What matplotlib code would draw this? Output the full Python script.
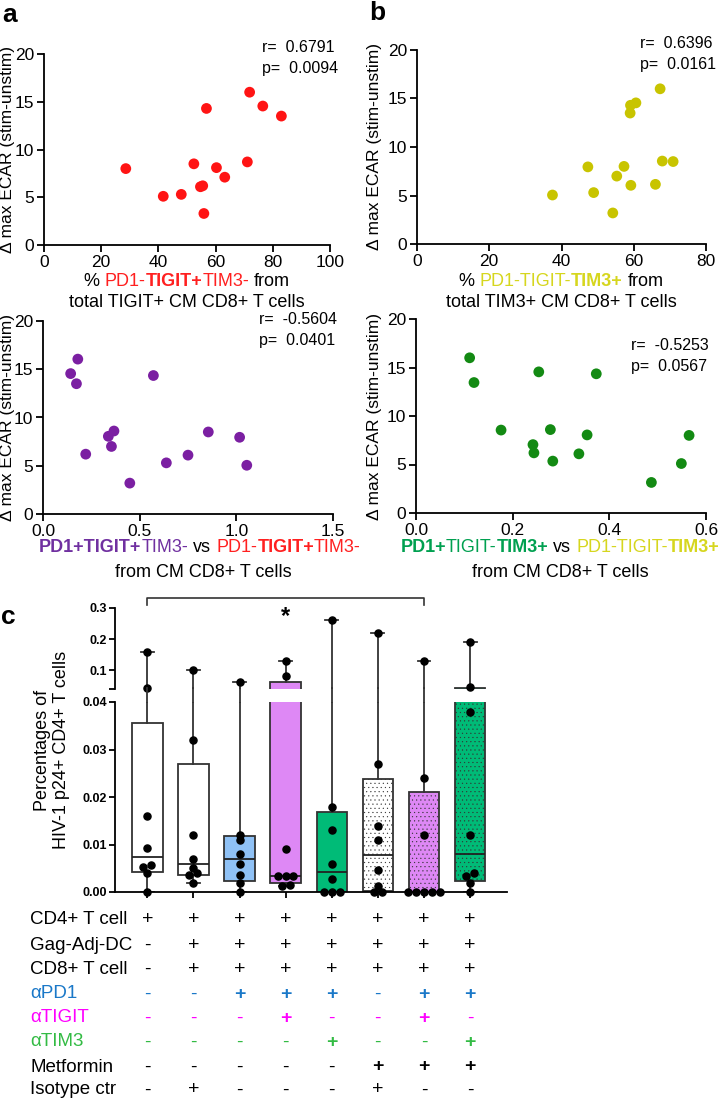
import numpy as np
import matplotlib
matplotlib.use('Agg')
import matplotlib.pyplot as plt
from matplotlib import transforms

plt.rcParams['font.family'] = ['Liberation Sans', 'DejaVu Sans']
plt.rcParams['hatch.linewidth'] = 0.3
NARROW = ['Liberation Sans Narrow', 'Liberation Sans', 'DejaVu Sans']

# ---------------- data ----------------
# panel a (top): % PD1-TIGIT+TIM3- vs delta max ECAR
tigit_pct = [28.6, 41.7, 48.0, 52.4, 54.7, 55.5, 55.9, 56.8, 60.3, 63.2, 71.1, 71.9, 76.5, 83.0]
ecar_a = [8.0, 5.1, 5.3, 8.5, 6.1, 6.2, 3.3, 14.3, 8.1, 7.1, 8.7, 16.0, 14.55, 13.5]

# panel b (top): % PD1-TIGIT-TIM3+
tim3_pct = [37.5, 47.3, 48.9, 54.2, 55.3, 57.3, 59.0, 59.2, 59.1, 60.6, 66.0, 67.3, 67.9, 70.9]
ecar_b = [5.05, 7.95, 5.3, 3.2, 7.0, 8.0, 13.5, 6.05, 14.3, 14.55, 6.15, 16.0, 8.55, 8.5]

# panel a (bottom): PD1+TIGIT+TIM3- / PD1-TIGIT+TIM3-
tigit_ratio = [0.143, 0.180, 0.173, 0.221, 0.338, 0.354, 0.367, 0.449, 0.571, 0.638, 0.750, 0.855, 1.017, 1.054]
ecar_c = [14.55, 16.05, 13.5, 6.2, 8.05, 7.0, 8.6, 3.2, 14.35, 5.3, 6.1, 8.5, 7.95, 5.05]

# panel b (bottom): PD1+TIGIT-TIM3+ / PD1-TIGIT-TIM3+
tim3_ratio = [0.111, 0.120, 0.176, 0.242, 0.244, 0.254, 0.278, 0.283, 0.337, 0.354, 0.373, 0.487, 0.549, 0.565]
ecar_d = [16.0, 13.45, 8.55, 7.05, 6.2, 14.55, 8.6, 5.35, 6.1, 8.05, 14.35, 3.15, 5.1, 8.0]

stats_txt = [('0.6791', '0.0094'), ('0.6396', '0.0161'), ('-0.5604', '0.0401'), ('-0.5253', '0.0567')]

# panel c: % HIV-1 p24+ CD4+ T cells per condition
p24 = [
    [0.16, 0.042, 0.016, 0.0092, 0.0056, 0.0052, 0.004, 0.0],
    [0.10, 0.032, 0.012, 0.007, 0.005, 0.004, 0.0035, 0.0019],
    [0.062, 0.012, 0.011, 0.008, 0.006, 0.0035, 0.002, 0.0],
    [0.13, 0.082, 0.009, 0.0033, 0.0033, 0.0033, 0.0015, 0.0012],
    [0.26, 0.018, 0.013, 0.0058, 0.0028, 0.0, 0.0, 0.0],
    [0.22, 0.027, 0.014, 0.011, 0.0047, 0.0012, 0.0, 0.0],
    [0.13, 0.024, 0.012, 0.0, 0.0, 0.0, 0.0, 0.0],
    [0.19, 0.045, 0.038, 0.012, 0.0041, 0.0034, 0.0019, 0.0],
]
box_colors = ['white', 'white', '#8fc1f5', '#de88f5', '#00bb77', 'white', '#de88f5', '#00bb77']
box_hatch = [None, None, None, None, None, '....', '....', '....']

row_labels = ['CD4+ T cell', 'Gag-Adj-DC', 'CD8+ T cell', 'αPD1', 'αTIGIT', 'αTIM3', 'Metformin', 'Isotype ctr']
row_colors = ['black', 'black', 'black', '#1a78c8', '#ff00ff', '#33bb44', 'black', 'black']
table = [
    '++++++++',
    '-+++++++',
    '-+++++++',
    '--+++-++',
    '---+--+-',
    '----+--+',
    '-----+++',
    '-+---+--',
]
bold_plus = [False, False, False, True, True, True, True, False]

# ---------------- figure ----------------
W, H = 726, 1098
fig = plt.figure(figsize=(W / 100, H / 100), dpi=100)


def box(l, t, r, b):
    return [l / W, 1 - b / H, (r - l) / W, (b - t) / H]


def style(ax):
    for s in ['top', 'right']:
        ax.spines[s].set_visible(False)
    for s in ['left', 'bottom']:
        ax.spines[s].set_linewidth(1.3)
    ax.tick_params(direction='out', length=5, width=1.3, labelsize=12.5, pad=2)


scatters = [
    (box(44, 54, 330, 245), tigit_pct, ecar_a, '#ff1414', (0, 100), [0, 20, 40, 60, 80, 100], None),
    (box(417, 50, 706, 244), tim3_pct, ecar_b, '#c8c400', (0, 80), [0, 20, 40, 60, 80], None),
    (box(43, 321, 333, 514), tigit_ratio, ecar_c, '#7b1fa2', (0, 1.5), [0.0, 0.5, 1.0, 1.5], '%.1f'),
    (box(416, 319, 706, 513), tim3_ratio, ecar_d, '#138a13', (0, 0.6), [0.0, 0.2, 0.4, 0.6], '%.1f'),
]
stat_pos = [(262, 48, 68), (640, 43, 65), (259, 320, 340), (631, 346, 367)]
axes = []
for (rect, xs, ys, col, xl, xt, fmt), (sx, ry, py), (rv, pv) in zip(scatters, stat_pos, stats_txt):
    ax = fig.add_axes(rect)
    ax.scatter(xs, ys, s=60, color=col, edgecolors='none', clip_on=False, zorder=3)
    ax.set_xlim(*xl)
    ax.set_ylim(0, 20)
    ax.set_xticks(xt)
    if fmt:
        ax.set_xticklabels([fmt % v for v in xt])
    ax.set_yticks([0, 5, 10, 15, 20])
    style(ax)
    fig.text(sx / W, 1 - ry / H, 'r=  ' + rv, fontsize=11.5, va='center')
    fig.text(sx / W, 1 - py / H, 'p=  ' + pv, fontsize=11.5, va='center')
    axes.append(ax)

for x, (top, bot) in zip([8, 374, 8, 374], [(54, 245), (50, 244), (321, 514), (319, 513)]):
    fig.text(x / W, 1 - (top + bot) / 2 / H, 'Δ max ECAR (stim-unstim)', rotation=90,
             ha='center', va='center', fontsize=12.5)

rend = fig.canvas.get_renderer()


def text_w(s, **kw):
    t = fig.text(0, 0, s, **kw)
    w = t.get_window_extent(rend).width
    t.remove()
    return w


def colour_line(xc, yb, parts, size=13):
    sp = text_w('x x', fontsize=size) - text_w('xx', fontsize=size)
    items = []
    for s, col, bold in parts:
        lead = len(s) - len(s.lstrip(' '))
        trail = len(s) - len(s.rstrip(' '))
        t = fig.text(0, 1 - yb / H, s.strip(' '), color=col, fontsize=size,
                     fontweight='bold' if bold else 'normal', va='baseline', ha='left')
        items.append((t, lead, trail, t.get_window_extent(rend).width))
    total = sum(w + (a + b) * sp for _, a, b, w in items)
    x = xc - total / 2
    for t, a, b, w in items:
        x += a * sp
        t.set_x(x / W)
        x += w + b * sp


RED, YEL, PUR, GRN = '#ff2020', '#d6d61e', '#7030a0', '#00a050'
colour_line(187, 286, [('% ', 'black', False), ('PD1-', RED, False), ('TIGIT+', RED, True),
                       ('TIM3-', RED, False), (' from', 'black', False)])
colour_line(187, 307, [('total TIGIT+ CM CD8+ T cells', 'black', False)])
colour_line(561, 286, [('% ', 'black', False), ('PD1-TIGIT-', YEL, False), ('TIM3+', YEL, True),
                       (' from', 'black', False)])
colour_line(561, 307, [('total TIM3+ CM CD8+ T cells', 'black', False)])
colour_line(200, 552, [('PD1+TIGIT+', PUR, True), ('TIM3-', PUR, False), (' vs ', 'black', False),
                       ('PD1-', RED, False), ('TIGIT+', RED, True), ('TIM3-', RED, False)])
colour_line(203, 577, [('from CM CD8+ T cells', 'black', False)])
colour_line(560, 552, [('PD1+', GRN, True), ('TIGIT-', GRN, False), ('TIM3+', GRN, True),
                       (' vs ', 'black', False), ('PD1-TIGIT-', YEL, False), ('TIM3+', YEL, True)])
colour_line(560, 577, [('from CM CD8+ T cells', 'black', False)])

for lab, x, y in [('a', 2, 22), ('b', 369, 20), ('c', 1, 624)]:
    fig.text(x / W, 1 - y / H, lab, fontsize=19, fontweight='bold', va='baseline')

# ---------------- panel c: broken-axis box plot ----------------
ax_hi = fig.add_axes(box(115, 608, 507, 689))
ax_lo = fig.add_axes(box(115, 702, 507, 892))
pos = np.arange(1, len(p24) + 1)

stats = []
for vals in p24:
    v = np.asarray(vals)
    q1, med, q3 = np.percentile(v, [25, 50, 75], method='weibull')
    stats.append(dict(q1=q1, med=med, q3=q3, whislo=v.min(), whishi=v.max(), fliers=[]))

for ax in (ax_hi, ax_lo):
    res = ax.bxp(stats, positions=pos, widths=0.66, patch_artist=True, showfliers=False,
                 capwidths=0.28,
                 boxprops=dict(edgecolor='#333333', linewidth=1.3),
                 medianprops=dict(color='#222222', linewidth=1.3),
                 whiskerprops=dict(color='#333333', linewidth=1.3),
                 capprops=dict(color='#333333', linewidth=1.3))
    for patch, fc, hatch in zip(res['boxes'], box_colors, box_hatch):
        patch.set_facecolor(fc)
        if hatch:
            patch.set_hatch(hatch)
    ax.set_xlim(0.3, 8.8)
    for s in ['top', 'right']:
        ax.spines[s].set_visible(False)
    ax.spines['left'].set_linewidth(1.3)
    ax.spines['bottom'].set_linewidth(1.3)

# whiskers run on through the axis break
gap_tr = transforms.blended_transform_factory(ax_lo.transData, ax_lo.transAxes)
for p, st in zip(pos, stats):
    if st['q3'] < 0.04 < st['whishi']:
        ax_lo.plot([p, p], [1, 1 + 14 / 190], transform=gap_tr, color='#333333', lw=1.3,
                   clip_on=False, zorder=1)

# dots, spread horizontally when values are tied
for p, vals in zip(pos, p24):
    v = np.sort(np.asarray(vals))
    xs = np.full(len(v), float(p))
    i = 0
    while i < len(v):
        j = i
        while j + 1 < len(v) and v[j + 1] - v[i] < 0.0009 and v[j + 1] < 0.04:
            j += 1
        n = j - i + 1
        xs[i:j + 1] = p + (np.arange(n) - (n - 1) / 2) * 0.17
        i = j + 1
    hi = v >= 0.04
    ax_hi.scatter(xs[hi], v[hi], s=26, color='black', zorder=4, clip_on=False)
    ax_lo.scatter(xs[~hi], v[~hi], s=26, color='black', zorder=4, clip_on=False)

ax_hi.set_ylim(0.04, 0.3)
ax_hi.spines['bottom'].set_visible(False)
ax_hi.set_xticks([])
ax_hi.set_yticks([0.04, 0.1, 0.2, 0.3])
ax_hi.set_yticklabels(['', '0.1', '0.2', '0.3'])
ax_lo.set_ylim(0, 0.04)
ax_lo.set_yticks([0, 0.01, 0.02, 0.03, 0.04])
ax_lo.set_yticklabels(['0.00', '0.01', '0.02', '0.03', '0.04'])
ax_lo.set_xticks(pos)
ax_lo.set_xticklabels([])
for ax in (ax_hi, ax_lo):
    ax.tick_params(direction='out', length=4, width=1.3, pad=2)
    for t in ax.get_yticklabels():
        t.set_fontfamily(NARROW)
        t.set_fontweight('bold')
        t.set_fontsize(9)

# significance bracket
tr = transforms.blended_transform_factory(ax_hi.transData, ax_hi.transAxes)
ax_hi.plot([1, 1, 7, 7], [1.04, 1.125, 1.125, 1.04], transform=tr, color='#333333',
           lw=1.2, clip_on=False)
ax_hi.text(4, 0.9, '*', transform=tr, ha='center', va='center', fontsize=17, fontweight='bold')

fig.text(52 / W, 1 - 750 / H, 'Percentages of\nHIV-1 p24+ CD4+ T cells', rotation=90,
         ha='center', va='center', fontsize=13, linespacing=1.2)

# condition table
ttr = transforms.blended_transform_factory(ax_lo.transData, fig.transFigure)
row_y = [920, 945, 969, 994, 1018, 1042, 1067, 1090]
for lab, col, y, signs, bp in zip(row_labels, row_colors, row_y, table, bold_plus):
    fig.text(30 / W, 1 - y / H, lab, color=col, fontsize=13.5, va='center',
             fontfamily=NARROW)
    for p, s in zip(pos, signs):
        ax_lo.text(p, 1 - y / H, s, transform=ttr, color=col, ha='center', va='center',
                   fontsize=14, fontweight='bold' if (s == '+' and bp) else 'normal',
                   fontfamily=NARROW)

fig.savefig('out.png', dpi=100)
